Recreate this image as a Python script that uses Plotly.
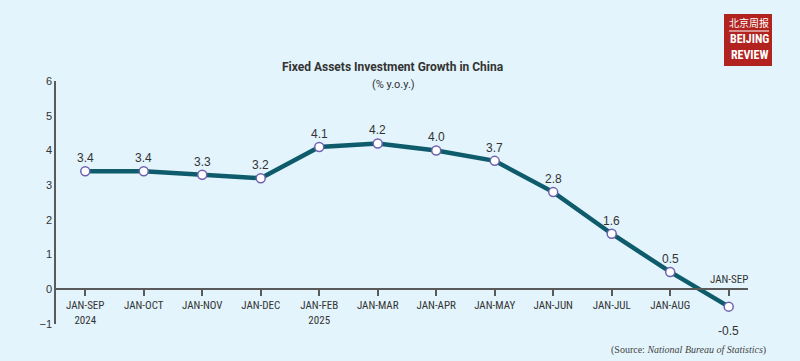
import plotly.graph_objects as go

categories = ["JAN-SEP<br>2024", "JAN-OCT", "JAN-NOV", "JAN-DEC", "JAN-FEB<br>2025", "JAN-MAR",
              "JAN-APR", "JAN-MAY", "JAN-JUN", "JAN-JUL", "JAN-AUG", "JAN-SEP"]
values = [3.4, 3.4, 3.3, 3.2, 4.1, 4.2, 4.0, 3.7, 2.8, 1.6, 0.5, -0.5]
y_ticks = [-1, 0, 1, 2, 3, 4, 5, 6]

W, H = 800, 361
ML, MR, MT, MB = 56, 52, 81, 37
PW, PH = W - ML - MR, H - MT - MB

def px(x):
    return (x - ML) / PW

def py(y):
    return (H - MB - y) / PH

BG = "#E3F4FC"
TXT = "#333333"
AX = "#5a5a5a"
LINE = "#0E5C6B"
MARK = "#6E62B0"
FONT = "Liberation Sans Narrow, Roboto Condensed, Arial Narrow, sans-serif"

idx = list(range(len(categories)))

fig = go.Figure()
fig.add_trace(go.Scatter(
    x=idx, y=values, mode="lines+markers",
    line=dict(color=LINE, width=4.5),
    marker=dict(size=9, color="white", line=dict(color=MARK, width=1.5)),
    hoverinfo="skip", showlegend=False,
))

annotations = []
for i, v in zip(idx, values):
    below = v < 0
    annotations.append(dict(
        x=i, y=v, xref="x", yref="y", text=f"{v:.1f}", showarrow=False,
        xanchor="center", yanchor="middle",
        font=dict(family="Arial, Liberation Sans, sans-serif", size=12, color=TXT),
        yshift=-24 if below else 13,
    ))

# last category label above the axis
annotations.append(dict(x=idx[-1], y=0, xref="x", yref="y", text=categories[-1],
                        showarrow=False, yshift=10, xanchor="center", yanchor="middle",
                        font=dict(family=FONT, size=11, color=TXT)))

ticktext = categories[:-1] + [""]

def note(x, y, text, font, xanchor="center", yanchor="middle"):
    return dict(x=px(x), y=py(y), xref="paper", yref="paper", text=text, showarrow=False,
                xanchor=xanchor, yanchor=yanchor, font=font)

# Title and subtitle
annotations.append(note(393, 67, "<b>Fixed Assets Investment Growth in China</b>",
                        dict(family="Roboto, Arial, sans-serif", size=12, color=TXT)))
annotations.append(note(393, 84, "(% y.o.y.)",
                        dict(family="Roboto, Arial, sans-serif", size=11, color=TXT)))
# Source
annotations.append(note(768, 350, "(Source: <i>National Bureau of Statistics</i>)",
                        dict(family="Liberation Serif, serif", size=10, color="#444444"),
                        xanchor="right"))

# Logo
shapes = [
    dict(type="rect", xref="paper", yref="paper", x0=px(724), x1=px(772), y0=py(66), y1=py(14),
         fillcolor="#B2231F", line=dict(width=0), layer="above"),
    dict(type="line", xref="paper", yref="paper", x0=px(729), x1=px(769), y0=py(31), y1=py(31),
         line=dict(color="white", width=1)),
]
annotations.append(note(749, 22, "北京周报",
                        dict(family="Noto Sans CJK SC, sans-serif", size=10, color="white")))
annotations.append(note(749, 47, "<b>BEIJING<br>REVIEW</b>",
                        dict(family=FONT, size=12, color="white")))

fig.update_layout(
    width=W, height=H,
    margin=dict(l=ML, r=MR, t=MT, b=MB, pad=0),
    paper_bgcolor=BG, plot_bgcolor=BG,
    xaxis=dict(
        range=[-0.5, 11.33], tickmode="array", tickvals=idx, ticktext=ticktext,
        showgrid=False, zeroline=False, showline=True, linecolor=AX, linewidth=1.5,
        ticks="outside", ticklen=6, tickwidth=1.5, tickcolor=AX,
        anchor="free", position=1 / 7,
        tickfont=dict(family=FONT, size=11, color=TXT),
    ),
    yaxis=dict(
        range=[-1, 6], tickmode="array", tickvals=y_ticks,
        showgrid=False, zeroline=False, showline=True, linecolor=AX, linewidth=1.5,
        ticks="", tickfont=dict(family="Arial, sans-serif", size=11, color=TXT),
    ),
    annotations=annotations, shapes=shapes,
)

fig.write_html("out.html", config={"displayModeBar": False},
               post_script="document.body.style.margin='0';document.body.style.overflow='hidden';")
